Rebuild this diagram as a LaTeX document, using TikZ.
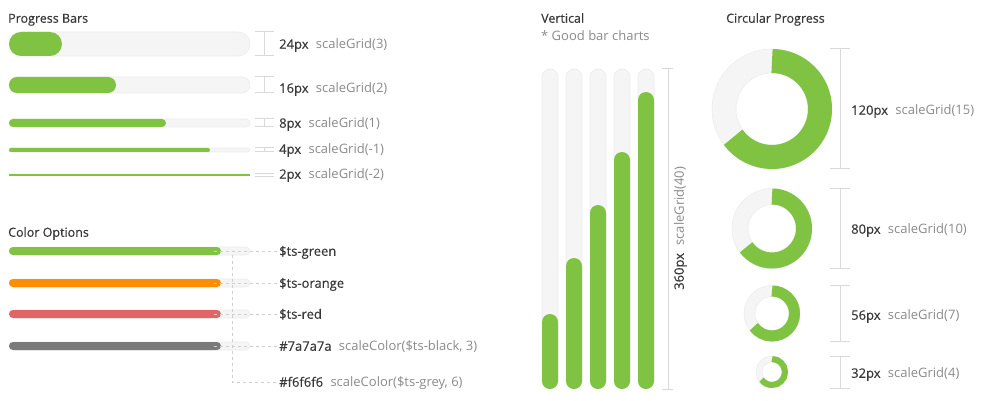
\documentclass[tikz,border=0pt]{standalone}
\usepackage{fontspec}
\setmainfont{Open Sans}
\newfontfamily\headfont{Open Sans}[FakeBold=0.35]
\usetikzlibrary{positioning}
\definecolor{ink}{HTML}{383838}
\definecolor{muted}{HTML}{8A8A8A}
\definecolor{trackfill}{HTML}{F5F5F5}
\definecolor{trackline}{HTML}{EBEBEB}
\definecolor{dimline}{HTML}{D9D9D9}
\definecolor{dashline}{HTML}{CFCFCF}
\definecolor{tsgreen}{HTML}{80C242}
\definecolor{tsorange}{HTML}{FF8F00}
\definecolor{tsred}{HTML}{E26565}
\definecolor{tsblack}{HTML}{7A7A7A}

\begin{document}
\begin{tikzpicture}[
  x=1pt, y=-1pt,
  font=\fontsize{13}{15}\selectfont,
  node distance=7pt,
  title/.style={
    font=\headfont\fontsize{12.5}{15}\selectfont,
    text=ink,
    inner sep=0pt,
    text height=9.5pt,
    text depth=0pt,
    anchor=west
  },
  value/.style={
    font=\headfont\fontsize{13}{15}\selectfont,
    text=ink,
    inner sep=0pt,
    text height=9.5pt,
    text depth=0pt,
    anchor=west
  },
  note/.style={
    value,
    font=\fontsize{13}{15}\selectfont,
    text=muted
  },
  track/.style={
    fill=trackfill,
    draw=trackline,
    line width=0.6pt
  },
  dim/.style={
    draw=dimline,
    line width=1pt
  },
  dashedlink/.style={
    draw=dashline,
    dashed,
    dash pattern=on 3pt off 3pt,
    line width=0.8pt
  }
]
\useasboundingbox (0,0) rectangle (983,401);

% Progress bars
\node[title] (pbtitle) at (8,18) {Progress Bars};

\filldraw[track, rounded corners=12] (9,32) rectangle (250,56);
\fill[tsgreen, rounded corners=12] (9,32) rectangle (62,56);
\filldraw[track, rounded corners=8] (9,77) rectangle (250,93);
\fill[tsgreen, rounded corners=8] (9,77) rectangle (116,93);
\filldraw[track, rounded corners=4] (9,119) rectangle (250,127);
\fill[tsgreen, rounded corners=4] (9,119) rectangle (166,127);
\filldraw[track, rounded corners=2] (9,148) rectangle (250,152);
\fill[tsgreen, rounded corners=2] (9,148) rectangle (210,152);
\fill[tsgreen] (9,174) rectangle (250,176);

\draw[dim] (255,32) -- (274,32) (264,32) -- (264,56) (255,56) -- (274,56);
\draw[dim] (255,77) -- (274,77) (264,77) -- (264,93) (255,93) -- (274,93);
\draw[dim] (255,119) -- (274,119) (264,119) -- (264,127) (255,127) -- (274,127);
\draw[dim] (255,148) -- (274,148) (264,148) -- (264,152) (255,152) -- (274,152);
\draw[dim] (255,173.5) -- (274,173.5) (255,176.5) -- (274,176.5);

\node[value] (pb24) at (279,44) {24px};
\node[note, right=of pb24] (pb24g) {scaleGrid(3)};
\node[value] (pb16) at (279,88) {16px};
\node[note, right=of pb16] (pb16g) {scaleGrid(2)};
\node[value] (pb8) at (279,123) {8px};
\node[note, right=of pb8] (pb8g) {scaleGrid(1)};
\node[value] (pb4) at (279,149) {4px};
\node[note, right=of pb4] (pb4g) {scaleGrid(-1)};
\node[value] (pb2) at (279,174) {2px};
\node[note, right=of pb2] (pb2g) {scaleGrid(-2)};

% Color options
\node[title] (cotitle) at (8,232) {Color Options};

\filldraw[track, rounded corners=4] (9,247) rectangle (250,255);
\fill[tsgreen, rounded corners=4] (9,247) rectangle (221,255);
\filldraw[track, rounded corners=4] (9,279) rectangle (250,287);
\fill[tsorange, rounded corners=4] (9,279) rectangle (221,287);
\filldraw[track, rounded corners=4] (9,310) rectangle (250,318);
\fill[tsred, rounded corners=4] (9,310) rectangle (221,318);
\filldraw[track, rounded corners=4] (9,342) rectangle (250,350);
\fill[tsblack, rounded corners=4] (9,342) rectangle (221,350);

\node[value] (lgreen) at (279,251) {\$ts-green};
\node[value] (lorange) at (279,283) {\$ts-orange};
\node[value] (lred) at (279,314) {\$ts-red};
\node[value] (lblack) at (279,346) {\#7a7a7a};
\node[note, right=of lblack] (lblackg) {scaleColor(\$ts-black, 3)};
\node[value] (lgrey) at (279,382) {\#f6f6f6};
\node[note, right=of lgrey] (lgreyg) {scaleColor(\$ts-grey, 6)};

\coordinate (cgreen) at (214,251);
\coordinate (corange) at (214,283);
\coordinate (cred) at (214,314);
\coordinate (cblack) at (214,346);
\coordinate (cgrey) at (232,255);

\draw[dashedlink] (cgreen) -- (lgreen.west);
\draw[dashedlink] (corange) -- (lorange.west);
\draw[dashedlink] (cred) -- (lred.west);
\draw[dashedlink] (cblack) -- (lblack.west);
\draw[dashedlink] (cgrey) |- (lgrey.west);

% Vertical bars
\node[title] (vtitle) at (541,18) {Vertical};
\node[note] (vnote) at (541,36) {* Good bar charts};

\filldraw[track, rounded corners=8] (542,69) rectangle (558,389);
\fill[tsgreen, rounded corners=8] (542,314) rectangle (558,389);
\filldraw[track, rounded corners=8] (566,69) rectangle (582,389);
\fill[tsgreen, rounded corners=8] (566,258) rectangle (582,389);
\filldraw[track, rounded corners=8] (590,69) rectangle (606,389);
\fill[tsgreen, rounded corners=8] (590,205) rectangle (606,389);
\filldraw[track, rounded corners=8] (614,69) rectangle (630,389);
\fill[tsgreen, rounded corners=8] (614,152) rectangle (630,389);
\filldraw[track, rounded corners=8] (638,69) rectangle (654,389);
\fill[tsgreen, rounded corners=8] (638,92) rectangle (654,389);

\draw[dim] (662,69) -- (673,69) (668,69) -- (668,389) (662,389) -- (673,389);

\node[value, rotate=90] (v360) at (679,290) {360px};
\node[note, rotate=90, anchor=west] (v360g) at ([yshift=7pt]v360.east) {scaleGrid(40)};

% Circular progress
\node[title] (ctitle) at (726,18) {Circular Progress};

\fill[trackfill, even odd rule] (772,109) circle[radius=60] circle[radius=36];
\draw[trackline, line width=0.5pt] (772,109) circle[radius=60] circle[radius=36];
\draw[tsgreen, line width=24pt] (772,109) ++(-90:48) arc[start angle=-90, end angle=144, radius=48];

\fill[trackfill, even odd rule] (772,228.5) circle[radius=40] circle[radius=24];
\draw[trackline, line width=0.5pt] (772,228.5) circle[radius=40] circle[radius=24];
\draw[tsgreen, line width=16pt] (772,228.5) ++(-90:32) arc[start angle=-90, end angle=144, radius=32];

\fill[trackfill, even odd rule] (772,313.5) circle[radius=28] circle[radius=17];
\draw[trackline, line width=0.5pt] (772,313.5) circle[radius=28] circle[radius=17];
\draw[tsgreen, line width=11pt] (772,313.5) ++(-90:22.5) arc[start angle=-90, end angle=144, radius=22.5];

\fill[trackfill, even odd rule] (772,372) circle[radius=16] circle[radius=10];
\draw[trackline, line width=0.5pt] (772,372) circle[radius=16] circle[radius=10];
\draw[tsgreen, line width=6pt] (772,372) ++(-90:13) arc[start angle=-90, end angle=144, radius=13];

\draw[dim] (830,49) -- (850,49) (840,49) -- (840,169) (830,169) -- (850,169);
\draw[dim] (830,188.5) -- (850,188.5) (840,188.5) -- (840,268.5) (830,268.5) -- (850,268.5);
\draw[dim] (830,285.5) -- (850,285.5) (840,285.5) -- (840,341.5) (830,341.5) -- (850,341.5);
\draw[dim] (830,356) -- (850,356) (840,356) -- (840,388) (830,388) -- (850,388);

\node[value] (c120) at (851,110) {120px};
\node[note, right=of c120] (c120g) {scaleGrid(15)};
\node[value] (c80) at (851,229) {80px};
\node[note, right=of c80] (c80g) {scaleGrid(10)};
\node[value] (c56) at (851,315) {56px};
\node[note, right=of c56] (c56g) {scaleGrid(7)};
\node[value] (c32) at (851,373) {32px};
\node[note, right=of c32] (c32g) {scaleGrid(4)};

\end{tikzpicture}
\end{document}
